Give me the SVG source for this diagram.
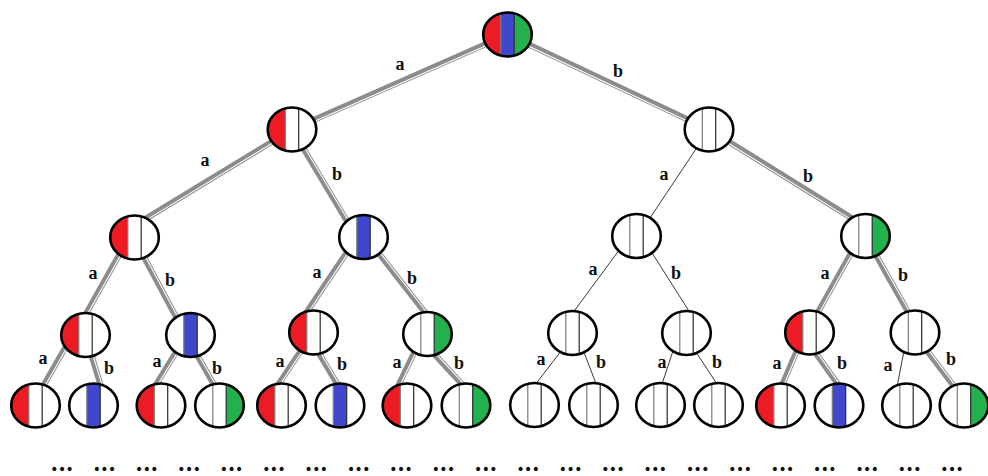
<svg xmlns="http://www.w3.org/2000/svg" xmlns:xlink="http://www.w3.org/1999/xlink" width="988" height="476" viewBox="0 0 988 476">
<style>
.eo{fill:none;stroke:#000;stroke-width:2.6}
.ew{fill:#fff;stroke:none}
.dg{stroke:#8c8c8c;stroke-width:6;fill:none}
.dw{stroke:#fff;stroke-width:1.1;fill:none}
.th{stroke:#3a3a3a;stroke-width:1;fill:none}
.lb{font-family:"Liberation Serif","Times New Roman",serif;font-weight:bold;font-size:18px;fill:#111;text-anchor:middle}
.dots{font-family:"DejaVu Serif","Liberation Serif",serif;font-weight:bold;font-size:22px;fill:#111;text-anchor:middle}
</style>
<defs>
<ellipse id="ew" class="ew" rx="24.3" ry="22"/>
<ellipse id="eo" class="eo" rx="24.3" ry="22"/>
<path id="pr" fill="#ED1C24" d="M-6.7,-21.15 A24.3,22 0 0 0 -6.7,21.15 Z"/>
<path id="pg" fill="#22B14C" d="M6.7,-21.15 A24.3,22 0 0 1 6.7,21.15 Z"/>
<path id="pb" fill="#3F48CC" d="M-6.7,-21.15 A24.3,22 0 0 1 6.7,-21.15 L6.7,21.15 A24.3,22 0 0 1 -6.7,21.15 Z"/>
<g id="ln"><line x1="-6.7" y1="-21.5" x2="-6.7" y2="21.5" stroke="#7a7a7a" stroke-width="1.2"/><line x1="6.7" y1="-21.5" x2="6.7" y2="21.5" stroke="#2a2a2a" stroke-width="1.2"/></g>
</defs>

<g id="connectors">
<line class="dg" x1="507.5" y1="34.5" x2="292" y2="129.5"/><line class="dw" x1="508.1" y1="35.9" x2="292.6" y2="130.9"/>
<line class="dg" x1="507.5" y1="34.5" x2="709" y2="129.5"/><line class="dw" x1="506.9" y1="35.9" x2="708.4" y2="130.9"/>
<line class="dg" x1="292" y1="129.5" x2="144.9" y2="219.1"/><line class="dw" x1="292.8" y1="130.8" x2="145.7" y2="220.4"/>
<line class="dg" x1="292" y1="129.5" x2="347.6" y2="222.3"/><line class="dw" x1="293.3" y1="128.7" x2="348.9" y2="221.5"/>
<line class="dg" x1="709" y1="129.5" x2="854.2" y2="219.6"/><line class="dw" x1="708.2" y1="130.8" x2="853.4" y2="220.9"/>
<line class="th" x1="709" y1="129.5" x2="649.2" y2="219.2"/>
<line class="dg" x1="121.9" y1="250" x2="84.5" y2="316.4"/><line class="dw" x1="123.2" y1="250.7" x2="85.8" y2="317.1"/>
<line class="dg" x1="141.2" y1="251.9" x2="177.4" y2="319.4"/><line class="dw" x1="142.5" y1="251.2" x2="178.7" y2="318.7"/>
<line class="dg" x1="349.5" y1="248.4" x2="305.2" y2="314.2"/><line class="dw" x1="350.8" y1="249.2" x2="306.5" y2="315"/>
<line class="dg" x1="375.1" y1="248.7" x2="426.1" y2="313.9"/><line class="dw" x1="376.3" y1="247.8" x2="427.3" y2="313"/>
<line class="th" x1="621.7" y1="246.6" x2="572" y2="314"/>
<line class="th" x1="649.7" y1="249.2" x2="689.7" y2="312.2"/>
<line class="dg" x1="853.9" y1="248" x2="815.6" y2="316.4"/><line class="dw" x1="855.2" y1="248.7" x2="816.9" y2="317.1"/>
<line class="dg" x1="873.1" y1="250" x2="909.5" y2="314.4"/><line class="dw" x1="874.4" y1="249.3" x2="910.8" y2="313.7"/>
<line class="dg" x1="69" y1="341.1" x2="42.5" y2="387.3"/><line class="dw" x1="70.3" y1="341.8" x2="43.8" y2="388"/>
<line class="dg" x1="89.6" y1="349.4" x2="101.5" y2="387.8"/><line class="dw" x1="91" y1="349" x2="102.9" y2="387.4"/>
<line class="dg" x1="180.2" y1="345.2" x2="154.4" y2="387.3"/><line class="dw" x1="181.5" y1="346" x2="155.7" y2="388.1"/>
<line class="dg" x1="193" y1="348.1" x2="215.5" y2="387.3"/><line class="dw" x1="194.3" y1="347.4" x2="216.8" y2="386.6"/>
<line class="dg" x1="304.4" y1="345.3" x2="277.2" y2="386.2"/><line class="dw" x1="305.7" y1="346.1" x2="278.5" y2="387"/>
<line class="dg" x1="315.9" y1="348.1" x2="338.6" y2="386.3"/><line class="dw" x1="317.2" y1="347.3" x2="339.9" y2="385.5"/>
<line class="dg" x1="416.5" y1="347.8" x2="397.8" y2="386.5"/><line class="dw" x1="417.9" y1="348.5" x2="399.2" y2="387.2"/>
<line class="dg" x1="429.6" y1="349.1" x2="463.4" y2="385.7"/><line class="dw" x1="430.7" y1="348.1" x2="464.5" y2="384.7"/>
<line class="th" x1="562.9" y1="348.7" x2="535.6" y2="384.2"/>
<line class="th" x1="582.1" y1="347.5" x2="596.1" y2="383.8"/>
<line class="th" x1="674.5" y1="346.4" x2="662" y2="384"/>
<line class="th" x1="693.6" y1="348.3" x2="716.6" y2="383.5"/>
<line class="dg" x1="798.2" y1="347.6" x2="781" y2="387.6"/><line class="dw" x1="799.6" y1="348.2" x2="782.4" y2="388.2"/>
<line class="dg" x1="812.4" y1="348.5" x2="839.9" y2="387.1"/><line class="dw" x1="813.6" y1="347.6" x2="841.1" y2="386.2"/>
<line class="th" x1="904.5" y1="348.1" x2="897.2" y2="386"/>
<line class="dg" x1="923.2" y1="345.6" x2="956" y2="389"/><line class="dw" x1="924.4" y1="344.7" x2="957.2" y2="388.1"/>
</g>

<g id="labels">
<text class="lb" x="400" y="69.5">a</text><text class="lb" x="618" y="77">b</text>
<text class="lb" x="205" y="165.5">a</text><text class="lb" x="337" y="180">b</text>
<text class="lb" x="664" y="180">a</text><text class="lb" x="808" y="182">b</text>
<text class="lb" x="93" y="278.5">a</text><text class="lb" x="170" y="286">b</text>
<text class="lb" x="317" y="277.5">a</text><text class="lb" x="412" y="284">b</text>
<text class="lb" x="593" y="274.5">a</text><text class="lb" x="676" y="279">b</text>
<text class="lb" x="825" y="278.5">a</text><text class="lb" x="903" y="281">b</text>
<text class="lb" x="43" y="363.5">a</text><text class="lb" x="109" y="374">b</text>
<text class="lb" x="157" y="366.5">a</text><text class="lb" x="217" y="374">b</text>
<text class="lb" x="280" y="366.5">a</text><text class="lb" x="342" y="370">b</text>
<text class="lb" x="397" y="367.5">a</text><text class="lb" x="459" y="369">b</text>
<text class="lb" x="541" y="364.5">a</text><text class="lb" x="601" y="368">b</text>
<text class="lb" x="662" y="367.5">a</text><text class="lb" x="717" y="368">b</text>
<text class="lb" x="777" y="368.5">a</text><text class="lb" x="842" y="369">b</text>
<text class="lb" x="888" y="370.5">a</text><text class="lb" x="951" y="365">b</text>
</g>

<g id="n0" transform="translate(507.5,34.5)"><use xlink:href="#ew" href="#ew"/><use href="#pr" xlink:href="#pr"/><use href="#pb" xlink:href="#pb"/><use href="#pg" xlink:href="#pg"/><use href="#ln" xlink:href="#ln"/><use href="#eo" xlink:href="#eo"/></g>
<g id="n1" transform="translate(292,129.5)"><use href="#ew" xlink:href="#ew"/><use href="#pr" xlink:href="#pr"/><use href="#ln" xlink:href="#ln"/><use href="#eo" xlink:href="#eo"/></g>
<g id="n2" transform="translate(709,129.5)"><use href="#ew" xlink:href="#ew"/><use href="#ln" xlink:href="#ln"/><use href="#eo" xlink:href="#eo"/></g>
<g id="n3" transform="translate(134.5,237.5)"><use href="#ew" xlink:href="#ew"/><use href="#pr" xlink:href="#pr"/><use href="#ln" xlink:href="#ln"/><use href="#eo" xlink:href="#eo"/></g>
<g id="n4" transform="translate(363.5,237)"><use href="#ew" xlink:href="#ew"/><use href="#pb" xlink:href="#pb"/><use href="#ln" xlink:href="#ln"/><use href="#eo" xlink:href="#eo"/></g>
<g id="n5" transform="translate(636.5,236)"><use href="#ew" xlink:href="#ew"/><use href="#ln" xlink:href="#ln"/><use href="#eo" xlink:href="#eo"/></g>
<g id="n6" transform="translate(865.5,236)"><use href="#ew" xlink:href="#ew"/><use href="#pg" xlink:href="#pg"/><use href="#ln" xlink:href="#ln"/><use href="#eo" xlink:href="#eo"/></g>
<g id="n7" transform="translate(85.5,335)"><use href="#ew" xlink:href="#ew"/><use href="#pr" xlink:href="#pr"/><use href="#ln" xlink:href="#ln"/><use href="#eo" xlink:href="#eo"/></g>
<g id="n8" transform="translate(190.5,335)"><use href="#ew" xlink:href="#ew"/><use href="#pb" xlink:href="#pb"/><use href="#ln" xlink:href="#ln"/><use href="#eo" xlink:href="#eo"/></g>
<g id="n9" transform="translate(313.5,332.5)"><use href="#ew" xlink:href="#ew"/><use href="#pr" xlink:href="#pr"/><use href="#ln" xlink:href="#ln"/><use href="#eo" xlink:href="#eo"/></g>
<g id="n10" transform="translate(427.5,334)"><use href="#ew" xlink:href="#ew"/><use href="#pg" xlink:href="#pg"/><use href="#ln" xlink:href="#ln"/><use href="#eo" xlink:href="#eo"/></g>
<g id="n11" transform="translate(572.5,333)"><use href="#ew" xlink:href="#ew"/><use href="#ln" xlink:href="#ln"/><use href="#eo" xlink:href="#eo"/></g>
<g id="n12" transform="translate(686.5,333)"><use href="#ew" xlink:href="#ew"/><use href="#ln" xlink:href="#ln"/><use href="#eo" xlink:href="#eo"/></g>
<g id="n13" transform="translate(809.5,332.5)"><use href="#ew" xlink:href="#ew"/><use href="#pr" xlink:href="#pr"/><use href="#ln" xlink:href="#ln"/><use href="#eo" xlink:href="#eo"/></g>
<g id="n14" transform="translate(915,332.5)"><use href="#ew" xlink:href="#ew"/><use href="#ln" xlink:href="#ln"/><use href="#eo" xlink:href="#eo"/></g>
<g id="n15" transform="translate(35.5,405.5)"><use href="#ew" xlink:href="#ew"/><use href="#pr" xlink:href="#pr"/><use href="#ln" xlink:href="#ln"/><use href="#eo" xlink:href="#eo"/></g>
<g id="n16" transform="translate(93.5,405.5)"><use href="#ew" xlink:href="#ew"/><use href="#pb" xlink:href="#pb"/><use href="#ln" xlink:href="#ln"/><use href="#eo" xlink:href="#eo"/></g>
<g id="n17" transform="translate(161,405.5)"><use href="#ew" xlink:href="#ew"/><use href="#pr" xlink:href="#pr"/><use href="#ln" xlink:href="#ln"/><use href="#eo" xlink:href="#eo"/></g>
<g id="n18" transform="translate(219.5,405.5)"><use href="#ew" xlink:href="#ew"/><use href="#pg" xlink:href="#pg"/><use href="#ln" xlink:href="#ln"/><use href="#eo" xlink:href="#eo"/></g>
<g id="n19" transform="translate(281.5,405.5)"><use href="#ew" xlink:href="#ew"/><use href="#pr" xlink:href="#pr"/><use href="#ln" xlink:href="#ln"/><use href="#eo" xlink:href="#eo"/></g>
<g id="n20" transform="translate(340,405.5)"><use href="#ew" xlink:href="#ew"/><use href="#pb" xlink:href="#pb"/><use href="#ln" xlink:href="#ln"/><use href="#eo" xlink:href="#eo"/></g>
<g id="n21" transform="translate(407,405.5)"><use href="#ew" xlink:href="#ew"/><use href="#pr" xlink:href="#pr"/><use href="#ln" xlink:href="#ln"/><use href="#eo" xlink:href="#eo"/></g>
<g id="n22" transform="translate(466,405.5)"><use href="#ew" xlink:href="#ew"/><use href="#pg" xlink:href="#pg"/><use href="#ln" xlink:href="#ln"/><use href="#eo" xlink:href="#eo"/></g>
<g id="n23" transform="translate(534.5,405)"><use href="#ew" xlink:href="#ew"/><use href="#ln" xlink:href="#ln"/><use href="#eo" xlink:href="#eo"/></g>
<g id="n24" transform="translate(593.5,405)"><use href="#ew" xlink:href="#ew"/><use href="#ln" xlink:href="#ln"/><use href="#eo" xlink:href="#eo"/></g>
<g id="n25" transform="translate(660.5,405)"><use href="#ew" xlink:href="#ew"/><use href="#ln" xlink:href="#ln"/><use href="#eo" xlink:href="#eo"/></g>
<g id="n26" transform="translate(718.5,405)"><use href="#ew" xlink:href="#ew"/><use href="#ln" xlink:href="#ln"/><use href="#eo" xlink:href="#eo"/></g>
<g id="n27" transform="translate(780.5,405.5)"><use href="#ew" xlink:href="#ew"/><use href="#pr" xlink:href="#pr"/><use href="#ln" xlink:href="#ln"/><use href="#eo" xlink:href="#eo"/></g>
<g id="n28" transform="translate(839,405.5)"><use href="#ew" xlink:href="#ew"/><use href="#pb" xlink:href="#pb"/><use href="#ln" xlink:href="#ln"/><use href="#eo" xlink:href="#eo"/></g>
<g id="n29" transform="translate(906.5,405.5)"><use href="#ew" xlink:href="#ew"/><use href="#ln" xlink:href="#ln"/><use href="#eo" xlink:href="#eo"/></g>
<g id="n30" transform="translate(964,405.5)"><use href="#ew" xlink:href="#ew"/><use href="#pg" xlink:href="#pg"/><use href="#ln" xlink:href="#ln"/><use href="#eo" xlink:href="#eo"/></g>

<g id="ellipsis">
<text class="dots" x="62" y="470.5">...</text><text class="dots" x="104.4" y="470.5">...</text><text class="dots" x="146.8" y="470.5">...</text><text class="dots" x="189.1" y="470.5">...</text>
<text class="dots" x="231.5" y="470.5">...</text><text class="dots" x="273.9" y="470.5">...</text><text class="dots" x="316.3" y="470.5">...</text><text class="dots" x="358.7" y="470.5">...</text>
<text class="dots" x="401" y="470.5">...</text><text class="dots" x="443.4" y="470.5">...</text><text class="dots" x="485.8" y="470.5">...</text><text class="dots" x="528.2" y="470.5">...</text>
<text class="dots" x="570.6" y="470.5">...</text><text class="dots" x="612.9" y="470.5">...</text><text class="dots" x="655.3" y="470.5">...</text><text class="dots" x="697.7" y="470.5">...</text>
<text class="dots" x="740.1" y="470.5">...</text><text class="dots" x="782.5" y="470.5">...</text><text class="dots" x="824.8" y="470.5">...</text><text class="dots" x="867.2" y="470.5">...</text>
<text class="dots" x="909.6" y="470.5">...</text><text class="dots" x="952" y="470.5">...</text>
</g>
</svg>
